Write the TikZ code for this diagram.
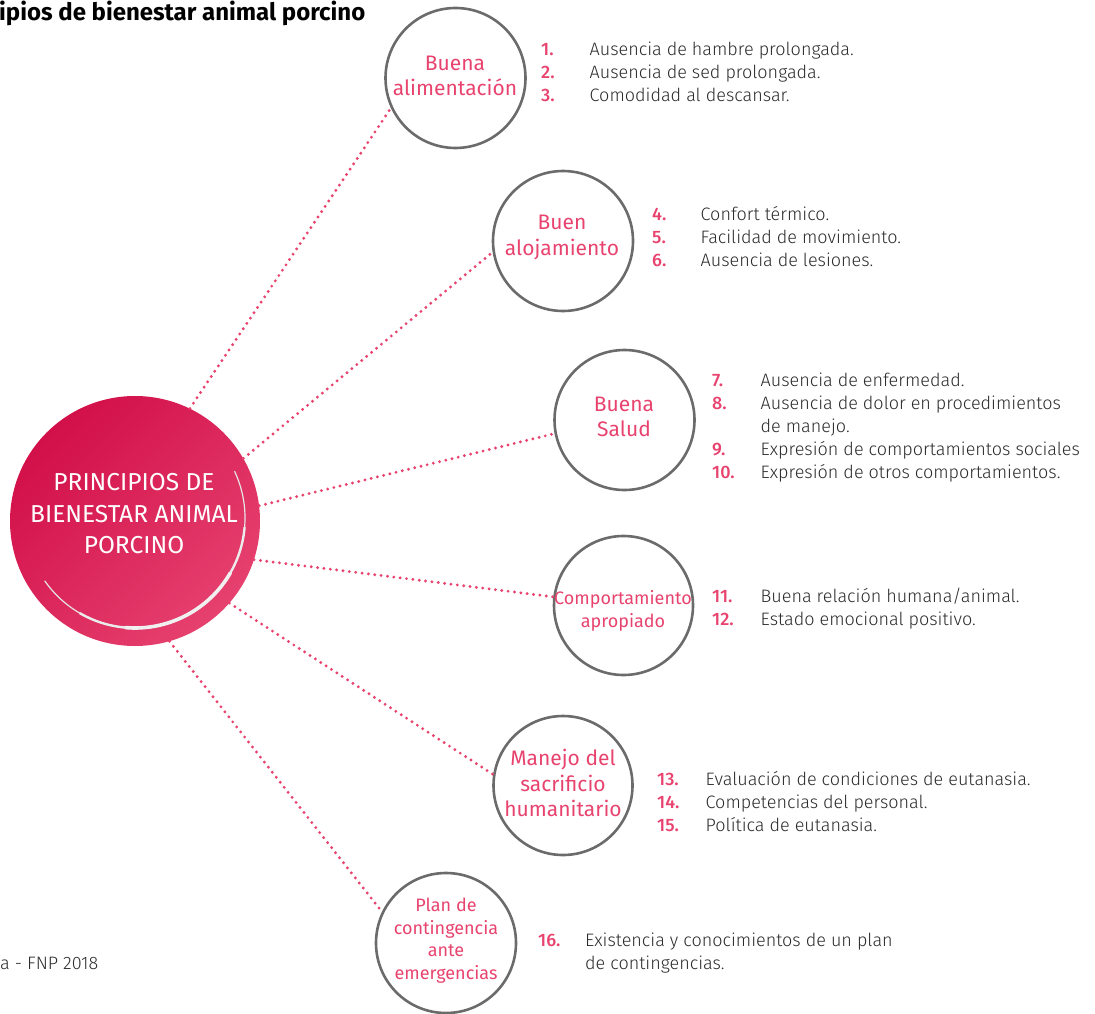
\documentclass[tikz,border=0pt]{standalone}
\usepackage{fontspec}
\setmainfont{Fira Sans}
\newfontfamily\lightfont{Fira Sans Light}
\newfontfamily\medfont{Fira Sans Medium}
\usetikzlibrary{calc}
\definecolor{pk}{HTML}{E8436E}
\definecolor{txt}{HTML}{2B2B2B}
\definecolor{ringc}{HTML}{6B6B6B}
\definecolor{coreA}{HTML}{D20F49}
\definecolor{coreB}{HTML}{E20A4A}
\definecolor{coreC}{HTML}{E6416F}
\newcommand\pknum[1]{\textcolor{pk}{\medfont\fontsize{18}{23}\selectfont #1}}
\begin{document}
\begin{tikzpicture}[x=1pt,y=-1pt,
  ring/.style={circle, draw=ringc, line width=2.6pt, inner sep=0pt, minimum size=#1},
  lab/.style={text=pk, align=center, inner sep=0pt, font=\fontsize{21}{25.5}\selectfont},
  labsm/.style={text=pk, align=center, inner sep=0pt, font=\fontsize{18}{22.5}\selectfont},
  link/.style={draw=pk, line width=3.2pt, line cap=round, dash pattern=on 0pt off 6.4pt},
  lst/.style={anchor=base west, inner sep=0pt, text=txt, font=\lightfont\fontsize{18}{23}\selectfont}]
\useasboundingbox (0,0) rectangle (1095,1014);

% title and source
\node[anchor=base west, inner sep=0pt, font=\bfseries\fontsize{24}{27}\selectfont] (title) at (-1,21) {ipios de bienestar animal porcino};
\node[anchor=base west, inner sep=0pt, text=txt, font=\lightfont\fontsize{18}{21}\selectfont] (src) at (0,969) {a - FNP 2018};

% central circle
\node[circle, minimum size=250pt, inner sep=0pt, shading=axis, top color=coreA, middle color=coreB, bottom color=coreC, shading angle=45] (core) at (135,521) {};
\draw[gray!20, line width=1.2pt, line cap=round] (135,518) ++(-25:110) arc[start angle=-25, end angle=145, radius=110];
\draw[gray!16, line width=2.4pt, line cap=round] (135,518) ++(5:110) arc[start angle=5, end angle=120, radius=110];
\draw[gray!12, line width=3.6pt, line cap=round] (135,518) ++(30:110) arc[start angle=30, end angle=95, radius=110];
\node[text=white, align=center, inner sep=0pt, font=\fontsize{24.5}{31.5}\selectfont] (coretext) at (134,514) {PRINCIPIOS DE\\BIENESTAR ANIMAL\\PORCINO};

% outer circles
\node[ring=140pt] (c1) at (455.5,78) {};
\node[ring=140pt] (c2) at (563,241) {};
\node[ring=140pt] (c3) at (624.5,420) {};
\node[ring=139pt] (c4) at (623.5,605.5) {};
\node[ring=139pt] (c5) at (563,785.5) {};
\node[ring=140pt] (c6) at (446,943) {};

% labels
\node[lab] (t1) at (455,76) {Buena\\alimentación};
\node[lab] (t2) at (562,237.5) {Buen\\alojamiento};
\node[lab] (t3) at (624,417) {Buena\\Salud};
\node[labsm] (t4) at (623,611) {Comportamiento\\apropiado};
\node[lab] (t5) at (563,783) {Manejo del\\sacrificio\\humanitario};
\node[labsm] (t6) at (446,940.5) {Plan de\\contingencia\\ante\\emergencias};

% connectors
\draw[link] (core.64) -- (c1.205);
\draw[link] (core.30) -- (c2.189);
\draw[link] (core.7) -- (c3.191);
\draw[link] (core.-18) -- (c4.173);
\draw[link] (core.-41) -- (c5.171);
\draw[link] (core.-74) -- (c6.154);

% lists
\node[lst] (l1) at (541,56) {\begin{tabular}[t]{@{}p{48.5pt}@{}l@{}}
\pknum{1.} & Ausencia de hambre prolongada.\\
\pknum{2.} & Ausencia de sed prolongada.\\
\pknum{3.} & Comodidad al descansar.
\end{tabular}};
\node[lst] (l2) at (652,220) {\begin{tabular}[t]{@{}p{48.5pt}@{}l@{}}
\pknum{4.} & Confort térmico.\\
\pknum{5.} & Facilidad de movimiento.\\
\pknum{6.} & Ausencia de lesiones.
\end{tabular}};
\node[lst] (l3) at (712,386) {\begin{tabular}[t]{@{}p{48.5pt}@{}l@{}}
\pknum{7.} & Ausencia de enfermedad.\\
\pknum{8.} & Ausencia de dolor en procedimientos\\
 & de manejo.\\
\pknum{9.} & Expresión de comportamientos sociales\\
\pknum{10.} & Expresión de otros comportamientos.
\end{tabular}};
\node[lst] (l4) at (712,602) {\begin{tabular}[t]{@{}p{48.5pt}@{}l@{}}
\pknum{11.} & Buena relación humana/animal.\\
\pknum{12.} & Estado emocional positivo.
\end{tabular}};
\node[lst] (l5) at (657,785) {\begin{tabular}[t]{@{}p{48.5pt}@{}l@{}}
\pknum{13.} & Evaluación de condiciones de eutanasia.\\
\pknum{14.} & Competencias del personal.\\
\pknum{15.} & Política de eutanasia.
\end{tabular}};
\node[lst] (l6) at (538,946) {\begin{tabular}[t]{@{}p{47pt}@{}l@{}}
\pknum{16.} & Existencia y conocimientos de un plan\\
 & de contingencias.
\end{tabular}};
\end{tikzpicture}
\end{document}
